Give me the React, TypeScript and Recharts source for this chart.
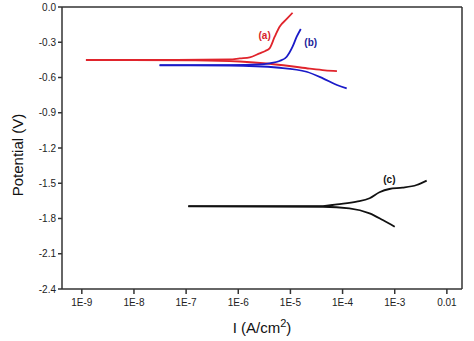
import { LineChart, Line, XAxis, YAxis, ReferenceLine, ReferenceDot, Label } from "recharts";

// current density (A/cm2) vs potential (V)
const aAnodic = [
  { i: 1.2e-9, e: -0.45 },
  { i: 6.6e-8, e: -0.45 },
  { i: 6.9e-7, e: -0.447 },
  { i: 1.07e-6, e: -0.437 },
  { i: 1.66e-6, e: -0.428 },
  { i: 2.57e-6, e: -0.394 },
  { i: 3.3e-6, e: -0.374 },
  { i: 3.98e-6, e: -0.352 },
  { i: 5.0e-6, e: -0.253 },
  { i: 6.2e-6, e: -0.168 },
  { i: 8.5e-6, e: -0.102 },
  { i: 1.1e-5, e: -0.049 },
];
const aCathodic = [
  { i: 1.2e-9, e: -0.452 },
  { i: 1.5e-7, e: -0.455 },
  { i: 1.07e-6, e: -0.464 },
  { i: 3.98e-6, e: -0.483 },
  { i: 9.5e-6, e: -0.502 },
  { i: 2.35e-5, e: -0.525 },
  { i: 4.6e-5, e: -0.539 },
  { i: 7.8e-5, e: -0.545 },
];
const bAnodic = [
  { i: 3.1e-8, e: -0.494 },
  { i: 6.9e-7, e: -0.494 },
  { i: 2.57e-6, e: -0.489 },
  { i: 3.98e-6, e: -0.479 },
  { i: 6.2e-6, e: -0.46 },
  { i: 8.5e-6, e: -0.423 },
  { i: 1.1e-5, e: -0.338 },
  { i: 1.32e-5, e: -0.253 },
  { i: 1.58e-5, e: -0.187 },
];
const bCathodic = [
  { i: 3.1e-8, e: -0.496 },
  { i: 6.9e-7, e: -0.498 },
  { i: 6.2e-6, e: -0.517 },
  { i: 2.04e-5, e: -0.551 },
  { i: 4.2e-5, e: -0.607 },
  { i: 7.8e-5, e: -0.664 },
  { i: 1.2e-4, e: -0.692 },
];
const cAnodic = [
  { i: 1.1e-7, e: -1.694 },
  { i: 4.2e-5, e: -1.694 },
  { i: 7.8e-5, e: -1.679 },
  { i: 1.86e-4, e: -1.657 },
  { i: 3.3e-4, e: -1.628 },
  { i: 5.1e-4, e: -1.577 },
  { i: 7.9e-4, e: -1.549 },
  { i: 1.41e-3, e: -1.538 },
  { i: 2.63e-3, e: -1.515 },
  { i: 4.1e-3, e: -1.478 },
];
const cCathodic = [
  { i: 1.1e-7, e: -1.696 },
  { i: 4.2e-5, e: -1.7 },
  { i: 1.35e-4, e: -1.713 },
  { i: 3.3e-4, e: -1.756 },
  { i: 5.9e-4, e: -1.813 },
  { i: 1.0e-3, e: -1.87 },
];

const xTicks = [1e-9, 1e-8, 1e-7, 1e-6, 1e-5, 1e-4, 1e-3, 1e-2];
const yTicks = [0, -0.3, -0.6, -0.9, -1.2, -1.5, -1.8, -2.1, -2.4];
const xDomain = [4.17e-10, 0.0195];

const fmtX = (v: number) => {
  const p = Math.round(Math.log10(v));
  return p === -2 ? "0.01" : `1E${p}`;
};

const font = "Arial, 'Liberation Sans', sans-serif";
const tickFont = { fontFamily: font, fontSize: 10, fill: "#222" };
const axisColor = "#333";

export default function App() {
  return (
    <div style={{ position: "absolute", left: 0, top: 0, background: "#fff" }}>
      <LineChart width={474} height={341} margin={{ top: 7, right: 12, left: 12, bottom: 22 }}>
        <XAxis
          dataKey="i"
          type="number"
          scale="log"
          domain={xDomain}
          ticks={xTicks}
          tickFormatter={fmtX}
          allowDataOverflow
          height={30}
          stroke={axisColor}
          strokeWidth={1.5}
          tickSize={5}
          tickMargin={5}
          tick={tickFont}
        >
          <Label
            content={() => (
              <text x={262} y={333} textAnchor="middle" fontFamily={font} fontSize={15} fill="#111">
                I (A/cm<tspan dy={-6} fontSize={11}>2</tspan><tspan dy={6}>)</tspan>
              </text>
            )}
          />
        </XAxis>
        <YAxis
          type="number"
          domain={[-2.4, 0]}
          ticks={yTicks}
          tickFormatter={(v: number) => v.toFixed(1)}
          width={50}
          stroke={axisColor}
          strokeWidth={1.5}
          tickSize={4}
          tick={tickFont}
        >
          <Label
            content={() => (
              <text
                x={23}
                y={155}
                transform="rotate(-90 23 155)"
                textAnchor="middle"
                fontFamily={font}
                fontSize={15}
                fill="#111"
              >
                Potential (V)
              </text>
            )}
          />
        </YAxis>
        <ReferenceLine y={0} stroke={axisColor} strokeWidth={1.5} />
        <ReferenceLine x={xDomain[1]} stroke={axisColor} strokeWidth={1.5} />

        <Line data={aCathodic} dataKey="e" stroke="#e0242c" strokeWidth={1.8} dot={false} type="monotone" isAnimationActive={false} />
        <Line data={aAnodic} dataKey="e" stroke="#e0242c" strokeWidth={1.8} dot={false} type="monotone" isAnimationActive={false} />
        <Line data={bCathodic} dataKey="e" stroke="#1a1ac8" strokeWidth={1.8} dot={false} type="monotone" isAnimationActive={false} />
        <Line data={bAnodic} dataKey="e" stroke="#1a1ac8" strokeWidth={1.8} dot={false} type="monotone" isAnimationActive={false} />
        <Line data={cCathodic} dataKey="e" stroke="#111" strokeWidth={1.8} dot={false} type="monotone" isAnimationActive={false} />
        <Line data={cAnodic} dataKey="e" stroke="#111" strokeWidth={1.8} dot={false} type="monotone" isAnimationActive={false} />

        <ReferenceDot x={3.2e-6} y={-0.238} r={0} stroke="none" label={{ value: "(a)", position: "center", fill: "#d8232a", fontSize: 10, fontWeight: "bold", fontFamily: font }} />
        <ReferenceDot x={2.45e-5} y={-0.298} r={0} stroke="none" label={{ value: "(b)", position: "center", fill: "#22229a", fontSize: 10, fontWeight: "bold", fontFamily: font }} />
        <ReferenceDot x={7.9e-4} y={-1.464} r={0} stroke="none" label={{ value: "(c)", position: "center", fill: "#111", fontSize: 10, fontWeight: "bold", fontFamily: font }} />
      </LineChart>
    </div>
  );
}
